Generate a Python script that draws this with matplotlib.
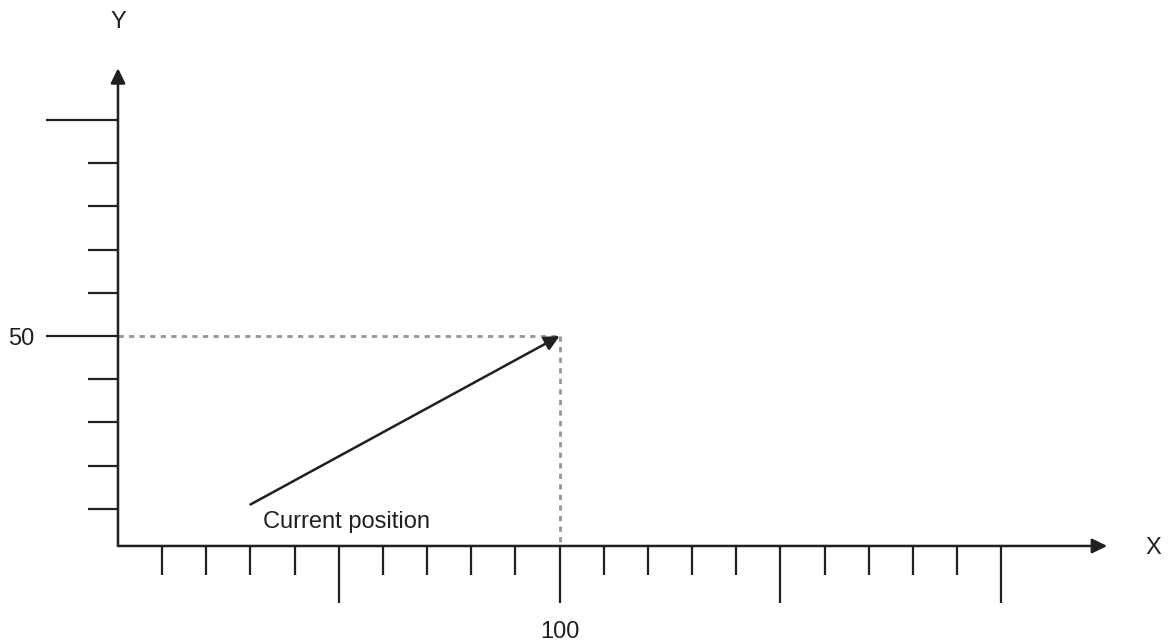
import matplotlib
matplotlib.use("Agg")
import matplotlib.pyplot as plt

plt.rcParams['font.family'] = ['Liberation Sans', 'DejaVu Sans']

# data
x_minor = [10, 20, 30, 40, 60, 70, 80, 90, 110, 120, 130, 140, 160, 170, 180, 190]
x_major = [50, 100, 150, 200]
x_major_labels = ['', '100', '', '']
y_minor = [10, 20, 30, 40, 60, 70, 80, 90]
y_major = [50, 100]
y_major_labels = ['50', '']
pos_start = (30, 11)
pos_end = (100, 50)
label_text = "Current position"

ink = '#231f20'
grey = '#939598'
base_y = 1.4  # x axis line sits just above y=0 in the original
x_end = 224
y_end = 112

fig = plt.figure(figsize=(11.68, 6.42), dpi=100)
ax = fig.add_axes([0, 0, 1, 1])
ax.set_xlim(-26.72, 237.77)
ax.set_ylim(-20.83, 127.78)

for s in ['top', 'right']:
    ax.spines[s].set_visible(False)
ax.spines['left'].set_position(('data', 0))
ax.spines['bottom'].set_position(('data', base_y))
ax.spines['left'].set_color('none')
ax.spines['bottom'].set_color('none')

ax.set_xticks(x_major)
ax.set_xticklabels(x_major_labels)
ax.set_xticks(x_minor, minor=True)
ax.set_yticks(y_major)
ax.set_yticklabels(y_major_labels)
ax.set_yticks(y_minor, minor=True)

ax.tick_params(axis='x', which='major', direction='out', length=41, width=1.6,
               color=ink, labelsize=17, labelcolor=ink, pad=13)
ax.tick_params(axis='x', which='minor', direction='out', length=21, width=1.6, color=ink)
ax.tick_params(axis='y', which='major', direction='out', length=52, width=1.6,
               color=ink, labelsize=17, labelcolor=ink, pad=8)
ax.tick_params(axis='y', which='minor', direction='out', length=21.5, width=1.6, color=ink)

# axis lines with arrow heads
axis_arrow = dict(arrowstyle='-|>,head_length=0.45,head_width=0.22', color=ink,
                  lw=1.8, shrinkA=0, shrinkB=0, mutation_scale=20)
ax.annotate('', xy=(x_end, base_y), xytext=(0, base_y), arrowprops=axis_arrow)
ax.annotate('', xy=(0, y_end), xytext=(0, base_y), arrowprops=axis_arrow)

# guide lines
ax.plot([0, pos_end[0]], [pos_end[1], pos_end[1]], color=grey, lw=2, dashes=(1.9, 1.9))
ax.plot([pos_end[0], pos_end[0]], [pos_end[1], base_y], color=grey, lw=2, dashes=(1.9, 1.9))

# position vector
ax.annotate('', xy=pos_end, xytext=pos_start, arrowprops=axis_arrow)

ax.text(32.8, 6.9, label_text, fontsize=17, color=ink, ha='left', va='center')
ax.text(0, 122.7, 'Y', fontsize=17, color=ink, ha='center', va='center')
ax.text(234.4, 0.9, 'X', fontsize=17, color=ink, ha='center', va='center')

fig.savefig('out.png', dpi=100)
